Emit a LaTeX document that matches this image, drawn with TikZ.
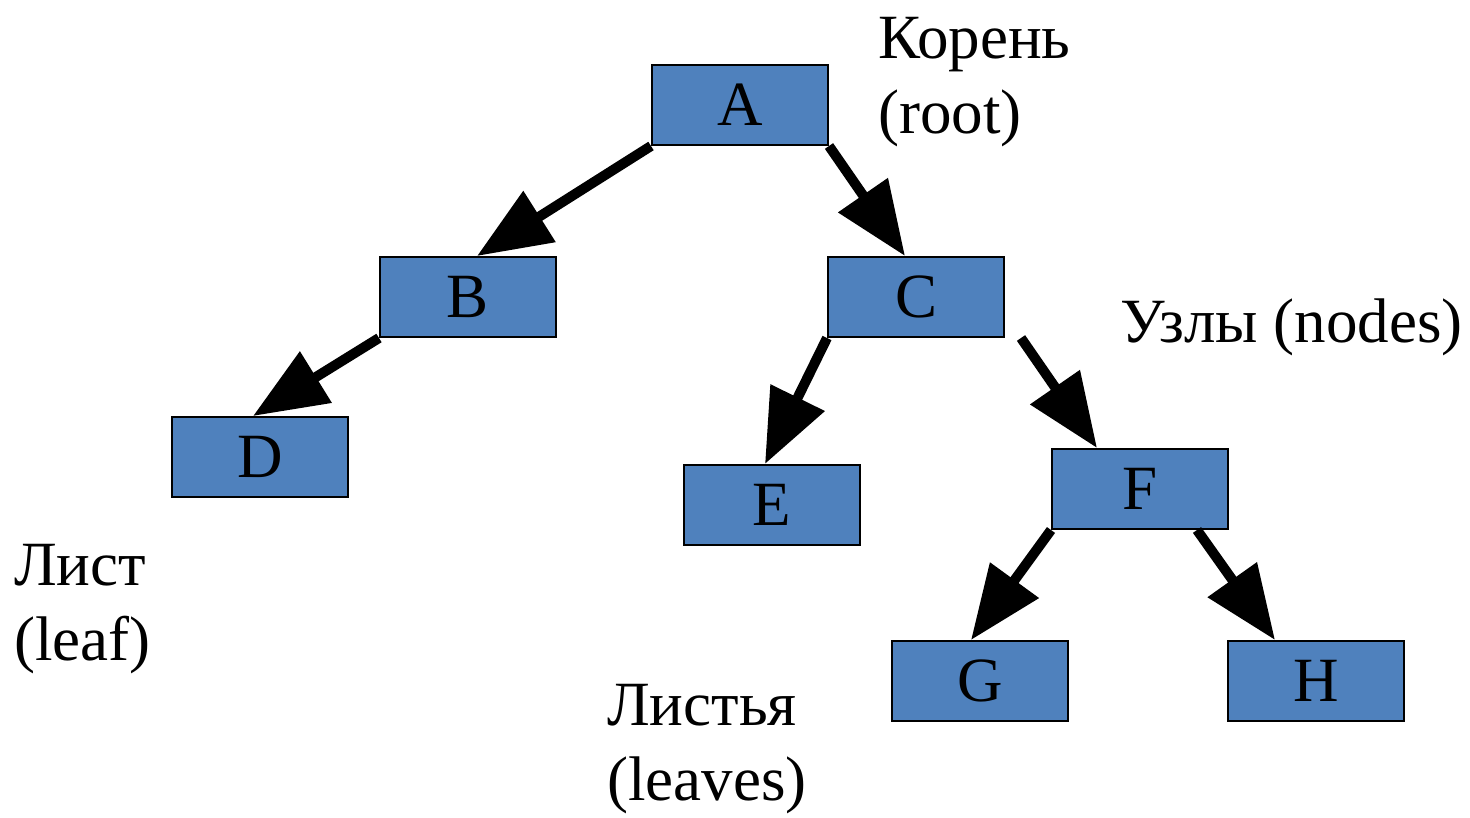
\documentclass[tikz,border=0pt]{standalone}
\usepackage{fontspec}
\setmainfont{Liberation Serif}
\usetikzlibrary{arrows.meta}
\definecolor{boxblue}{HTML}{4F81BD}
\tikzset{
  treebox/.style={draw=black, line width=2pt, fill=boxblue, minimum width=176pt, minimum height=80pt, inner sep=0pt, font=\fontsize{63}{63}\selectfont},
  treearrow/.style={line width=10pt, -{Triangle[length=74pt,width=58pt]}},
  label text/.style={inner sep=0pt, align=left, font=\fontsize{63}{75}\selectfont}
}
\begin{document}
\begin{tikzpicture}[x=1pt,y=-1pt]
\useasboundingbox (0,0) rectangle (1470,817);
\node[treebox] (A) at (740,105) {A};
\node[treebox] (B) at (468,297) {B};
\node[treebox] (C) at (916,297) {C};
\node[treebox] (D) at (260,457) {D};
\node[treebox] (E) at (772,505) {E};
\node[treebox] (F) at (1140,489) {F};
\node[treebox] (G) at (980,681) {G};
\node[treebox] (H) at (1316,681) {H};

\draw[treearrow] (A.south west) -- ([xshift=98pt]B.north west);
\draw[treearrow] (A.south east) -- ([xshift=78pt]C.north west);
\draw[treearrow] (B.south west) -- ([xshift=82pt]D.north west);
\draw[treearrow] (C.south west) -- ([xshift=82pt]E.north west);
\draw[treearrow] ([xshift=16pt]C.south east) -- ([xshift=46pt]F.north west);
\draw[treearrow] (F.south west) -- ([xshift=80pt]G.north west);
\draw[treearrow] ([xshift=-32pt]F.south east) -- ([xshift=48pt]H.north west);

\node[label text, anchor=north west] (root) at (878,17) {Корень\\(root)};
\node[label text, anchor=base west] (nodes) at (1120,342) {Узлы (nodes)};
\node[label text, anchor=north west] (leaf) at (14,544) {Лист\\(leaf)};
\node[label text, anchor=north west] (leaves) at (607,684) {Листья\\(leaves)};
\end{tikzpicture}
\end{document}
